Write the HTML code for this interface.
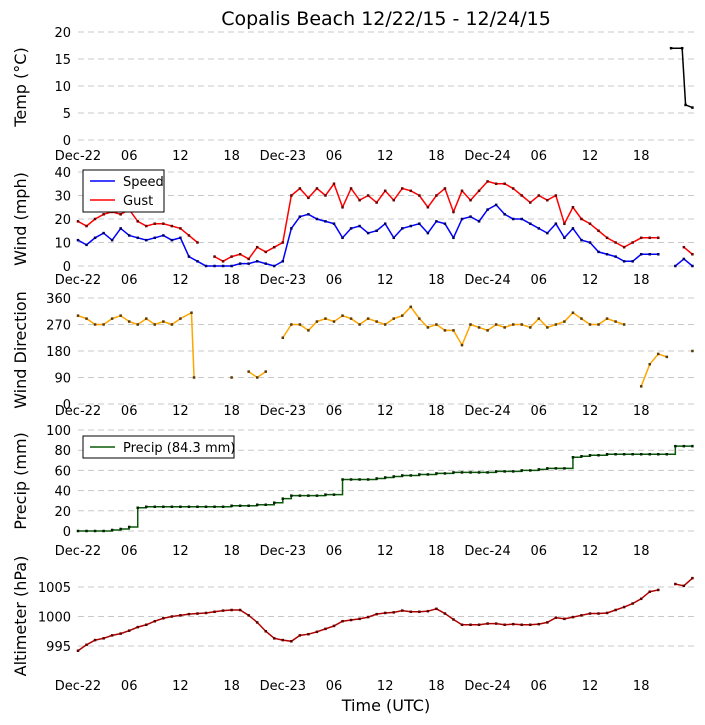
<!DOCTYPE html>
<html><head><meta charset="utf-8"><style>
body{margin:0;background:#fff}
svg{display:block;font-family:"DejaVu Sans","Liberation Sans",sans-serif}
</style></head><body>
<svg id="c" width="705" height="725" viewBox="0 0 705 725">
<text x="386" y="25" font-size="19" text-anchor="middle">Copalis Beach 12/22/15 - 12/24/15</text>
<text x="386" y="711" font-size="16" text-anchor="middle">Time (UTC)</text>
</svg>
<script>
const xTicks=["Dec-22","06","12","18","Dec-23","06","12","18","Dec-24","06","12","18"];
const tempHours=[69.5,70.8,71.2,72];
const tempVals=[17,17,6.5,6];
const speedVals=[11,9,12,14,11,16,13,12,11,12,13,11,12,4,2,0,0,0,0,1,1,2,1,0,2,16,21,22,20,19,18,12,16,17,14,15,18,12,16,17,18,14,19,18,12,20,21,19,24,26,22,20,20,18,16,14,18,12,16,11,10,6,5,4,2,2,5,5,5,null,0,3,0];
const gustVals=[19,17,20,22,23,22,24,19,17,18,18,17,16,13,10,null,4,2,4,5,3,8,6,8,10,30,33,29,33,30,35,25,33,28,30,27,32,28,33,32,30,25,30,33,23,32,28,32,36,35,35,33,30,27,30,28,30,18,25,20,18,15,12,10,8,10,12,12,12,null,null,8,5];
const dirVals=[300,290,270,270,290,300,280,270,290,270,280,270,290,310,90,null,null,null,90,null,110,90,110,null,225,270,270,250,280,290,280,300,290,270,290,280,270,290,300,330,290,260,270,250,250,200,270,260,250,270,260,270,270,260,290,260,270,280,310,290,270,270,290,280,270,null,60,135,170,160,null,null,180];
const dirHours=dirVals.map((v,i)=>i===13?13.3:(i===14?13.6:i));
const precipVals=[0,0,0,0,1,2,4,23,24,24,24,24,24,24,24,24,24,24,25,25,25,26,26,28,32,35,35,35,35,36,36,51,51,51,51,52,53,54,55,55,56,56,57,57,58,58,58,58,58,59,59,59,60,60,61,62,62,62,73,74,75,75,76,76,76,76,76,76,76,76,84,84,84];
const altVals=[994.2,995.2,996,996.3,996.8,997.1,997.6,998.2,998.6,999.2,999.7,1000,1000.2,1000.4,1000.5,1000.6,1000.8,1001,1001.1,1001.1,1000.2,999,997.5,996.3,996,995.8,996.8,997,997.4,997.9,998.4,999.2,999.4,999.6,999.9,1000.4,1000.6,1000.7,1001,1000.8,1000.8,1000.9,1001.3,1000.5,999.5,998.6,998.6,998.6,998.8,998.8,998.6,998.7,998.6,998.6,998.7,999,999.8,999.6,999.9,1000.2,1000.5,1000.5,1000.6,1001.1,1001.6,1002.2,1003,1004.2,1004.5,null,1005.5,1005.2,1006.5];

const NS="http://www.w3.org/2000/svg";
const svg=document.getElementById('c');
function el(t,a,p){const e=document.createElementNS(NS,t);for(const k in a)e.setAttribute(k,a[k]);(p||svg).appendChild(e);return e;}
const X=h=>78+h*(614.4/72);
const panels=[
 {name:'temp',label:'Temp (°C)',y0:140,ppu:5.4,min:0,ticks:[0,5,10,15,20],tickY:160,lab:'y-axis-title-temp'},
 {name:'wind',label:'Wind (mph)',y0:266,ppu:2.35,min:0,ticks:[0,10,20,30,40],tickY:284,lab:'y-axis-title-wind'},
 {name:'dir',label:'Wind Direction',y0:404,ppu:106/360,min:0,ticks:[0,90,180,270,360],tickY:415,lab:'y-axis-title-direction'},
 {name:'precip',label:'Precip (mm)',y0:531,ppu:1.01,min:0,ticks:[0,20,40,60,80,100],tickY:555,lab:'y-axis-title-precip'},
 {name:'alt',label:'Altimeter (hPa)',y0:646,ppu:5.9,min:995,ticks:[995,1000,1005],tickY:690,lab:'y-axis-title-altimeter'}
];
const labY=[87,219,350,481,616];
panels.forEach((p,i)=>{
  p.Y=v=>p.y0-(v-p.min)*p.ppu;
  const g=el('g',{});
  
  
  p.ticks.forEach(t=>{
    const ln=el('line',{x1:78,x2:695,y1:p.Y(t),y2:p.Y(t),stroke:'#c8c8c8','stroke-dasharray':'6,4','stroke-width':1},g);
    
    
    const tx=el('text',{x:71,y:p.Y(t)+5,'font-size':13,'text-anchor':'end'},g);
    tx.textContent=t;
    
    
  });
  xTicks.forEach((t,j)=>{
    const tx=el('text',{x:X(j*6),y:p.tickY,'font-size':13,'text-anchor':'middle'},g);
    tx.textContent=t;
    
    
  });
  const yl=el('text',{x:0,y:0,'font-size':16,'text-anchor':'middle',transform:`translate(26,${labY[i]}) rotate(-90)`},g);
  yl.textContent=p.label;
  
  
});
function series(p,hours,vals,color,mcol,name,step){
  const g=el('g',{});
  
  
  let d='',prev=null;
  vals.forEach((v,i)=>{
    if(v==null){prev=null;return;}
    const x=X(hours[i]),y=p.Y(v);
    if(prev==null)d+=`M${x},${y}`;
    else d+=step?`H${x}V${y}`:`L${x},${y}`;
    prev=v;
  });
  const path=el('path',{d:d,fill:'none',stroke:color,'stroke-width':1.5},g);
  
  
  vals.forEach((v,i)=>{
    if(v==null)return;
    const r=el('rect',{x:X(hours[i])-1.25,y:p.Y(v)-1.25,width:2.5,height:2.5,fill:mcol},g);
    
    
  });
}
const hrs=n=>Array.from({length:n},(_,i)=>i);
series(panels[0],tempHours,tempVals,'#000','#000','temp-series',false);
series(panels[1],hrs(gustVals.length),gustVals,'#ff0000','#6b0000','gust-series',false);
series(panels[1],hrs(speedVals.length),speedVals,'#0000ff','#000060','speed-series',false);
series(panels[2],dirHours,dirVals,'#ffa500','#5a3a00','direction-series',false);
series(panels[3],hrs(precipVals.length),precipVals,'#0a5a0a','#002000','precip-series',true);
series(panels[4],hrs(altVals.length),altVals,'#b00000','#5a0000','altimeter-series',false);
function legend(x,y,w,h,items,name){
  const g=el('g',{});
  
  
  el('rect',{x:x,y:y,width:w,height:h,fill:'#fff',stroke:'#000','stroke-width':1},g);
  items.forEach((it,i)=>{
    const yy=y+11+i*19;
    const ln=el('line',{x1:x+7,x2:x+32,y1:yy,y2:yy,stroke:it[1],'stroke-width':1.5},g);
    
    
    const t=el('text',{x:x+40,y:yy+5,'font-size':13},g);
    t.textContent=it[0];
    
    
  });
}
legend(83,170,81,42,[['Speed','#0000ff'],['Gust','#ff0000']],'wind-legend');
legend(83,436,151,22,[['Precip (84.3 mm)','#0a5a0a']],'precip-legend');
</script>
</body></html>
